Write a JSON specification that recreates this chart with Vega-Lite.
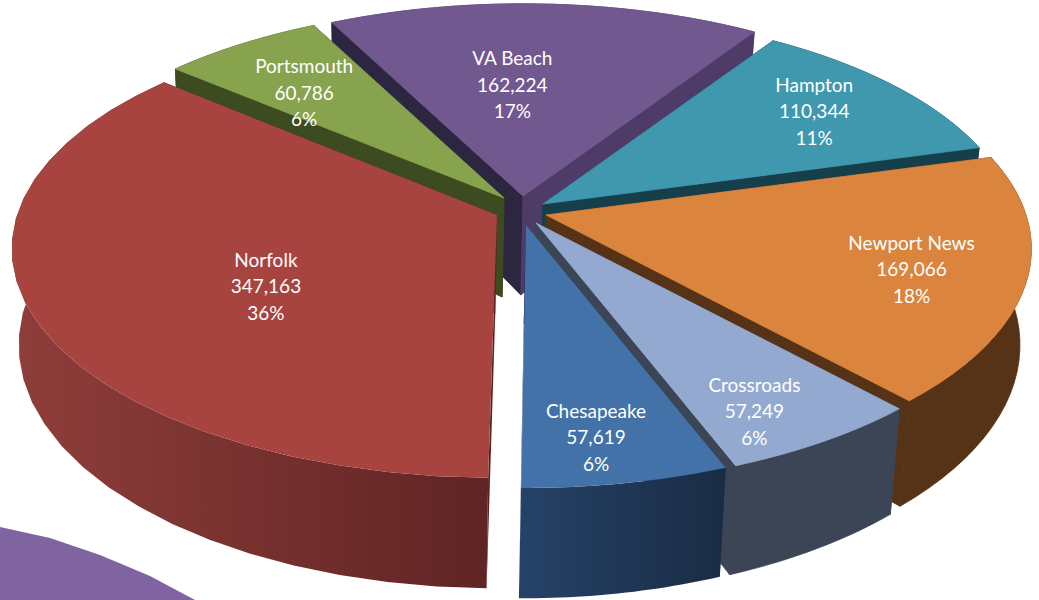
{
"$schema":"https://vega.github.io/schema/vega-lite/v6.json",
"autosize":{"type":"fit","contains":"padding"},
"width":1039,"height":600,"padding":0,"background":"white",
"view":{"stroke":null},
"data":{"values":[
{"slice":"VA Beach","value":162224,"pieOrder":3},
{"slice":"Portsmouth","value":60786,"pieOrder":2},
{"slice":"Hampton","value":110344,"pieOrder":4},
{"slice":"Newport News","value":169066,"pieOrder":5},
{"slice":"Norfolk","value":347163,"pieOrder":1},
{"slice":"Crossroads","value":57249,"pieOrder":6},
{"slice":"Chesapeake","value":57619,"pieOrder":7}
]},
"transform":[
{"joinaggregate":[{"op":"sum","field":"value","as":"total"}]},
{"window":[{"op":"sum","field":"value","as":"cum"}],"sort":[{"field":"pieOrder","order":"ascending"}]},
{"calculate":"180.5+(datum.slice=='Norfolk'?0.4:0)+360*(datum.cum-datum.value)/datum.total","as":"startDeg"},
{"calculate":"360*datum.value/datum.total","as":"spanDeg"},
{"calculate":"{'Norfolk':[497,215],'Portsmouth':[504,198],'VA Beach':[523,196],'Hampton':[543,204],'Newport News':[546,215],'Crossroads':[536,223],'Chesapeake':[526,225]}[datum.slice]","as":"apexAt"},
{"calculate":"{'Norfolk':1,'Portsmouth':0.98,'VA Beach':0.985,'Hampton':0.98,'Newport News':1,'Crossroads':1,'Chesapeake':1}[datum.slice]","as":"rs"},
{"calculate":"['wall','side1','side2','top']","as":"part"},
{"flatten":["part"]},
{"calculate":"datum.part=='top'?[-1,0,0.04,0.08,0.12,0.16,0.2,0.24,0.28,0.32,0.36,0.4,0.44,0.48,0.52,0.56,0.6,0.64,0.68,0.72,0.76,0.8,0.84,0.88,0.92,0.96,1]:datum.part=='wall'?[0,0.04,0.08,0.12,0.16,0.2,0.24,0.28,0.32,0.36,0.4,0.44,0.48,0.52,0.56,0.6,0.64,0.68,0.72,0.76,0.8,0.84,0.88,0.92,0.96,1,3,2.96,2.92,2.88,2.84,2.8,2.76,2.72,2.68,2.64,2.6,2.56,2.52,2.48,2.44,2.4,2.36,2.32,2.28,2.24,2.2,2.16,2.12,2.08,2.04,2]:datum.part=='side1'?[-1,0,2,-2]:[-1,1,3,-2]","as":"code"},
{"flatten":["code"]},
{"window":[{"op":"row_number","as":"seq"}]},
{"calculate":"datum.slice+' '+datum.part","as":"piece"},
{"calculate":"datum.code==-2||datum.code>=2","as":"low"},
{"calculate":"datum.code<0","as":"isApex"},
{"calculate":"(datum.startDeg+(datum.code>=2?datum.code-2:datum.code)*datum.spanDeg)*PI/180","as":"ang"},
{"calculate":"datum.isApex?1:1+0.148*cos(datum.ang)","as":"D"},
{"calculate":"datum.apexAt[0]+(datum.isApex?0:datum.rs*480*sin(datum.ang)/datum.D)","as":"x0"},
{"calculate":"datum.apexAt[1]-(datum.isApex?0:datum.rs*224*cos(datum.ang)/datum.D)","as":"y0"},
{"calculate":"datum.low?7.2+datum.x0*0.982:datum.x0","as":"px"},
{"calculate":"datum.low?datum.y0+(datum.isApex?99:94/datum.D):datum.y0","as":"py"}
],
"encoding":{
"x":{"field":"px","type":"quantitative","scale":{"domain":[0,1039],"nice":false,"zero":false},"axis":null},
"y":{"field":"py","type":"quantitative","scale":{"domain":[600,0],"nice":false,"zero":false},"axis":null},
"order":{"field":"seq","type":"quantitative"}
},
"layer":[
{"data":{"values":[{"seq":1,"px":0,"py":527},{"seq":2,"px":50,"py":538},{"seq":3,"px":100,"py":555},{"seq":4,"px":150,"py":576},{"seq":5,"px":195,"py":600},{"seq":6,"px":0,"py":600}]},
"mark":{"type":"line","fill":"#8064A2","stroke":null,"interpolate":"linear-closed"}},
{"transform":[{"filter":"datum.slice!='Norfolk'&&datum.slice!='Chesapeake'"}],
"mark":{"type":"line","strokeWidth":0.8,"interpolate":"linear-closed"},
"encoding":{"fill":{"field":"piece","type":"nominal","legend":null,"scale":{
"domain":["VA Beach wall","VA Beach side1","VA Beach side2","VA Beach top","Portsmouth wall","Portsmouth side1","Portsmouth side2","Portsmouth top","Hampton wall","Hampton side1","Hampton side2","Hampton top","Newport News wall","Newport News side1","Newport News side2","Newport News top","Norfolk side1","Norfolk side2","Norfolk top","Crossroads wall","Crossroads side1","Crossroads side2","Crossroads top","Chesapeake side1","Chesapeake side2","Chesapeake top"],
"range":["#4e3b68","#2d2640","#4e3b68","#71588F","#404f20","#3d4b20","#3d4b20","#87A34E","#17414f","#17414f","#163f4c","#4098AF","#563317","#563317","#563317","#DB843D","#5a2422","#5a2422","#A8443F","#3b4555","#3b4555","#3b4555","#93A9CF","#1d3350","#1d3350","#4272A7"]
}},
"stroke":{"field":"piece","type":"nominal","legend":null,"scale":{
"domain":["VA Beach wall","VA Beach side1","VA Beach side2","VA Beach top","Portsmouth wall","Portsmouth side1","Portsmouth side2","Portsmouth top","Hampton wall","Hampton side1","Hampton side2","Hampton top","Newport News wall","Newport News side1","Newport News side2","Newport News top","Crossroads wall","Crossroads side1","Crossroads side2","Crossroads top"],
"range":["#4e3b68","#2d2640","#4e3b68","#71588F","#404f20","#3d4b20","#3d4b20","#87A34E","#17414f","#17414f","#163f4c","#4098AF","#563317","#563317","#563317","#DB843D","#3b4555","#3b4555","#3b4555","#93A9CF"]
}}}},
{"transform":[{"filter":"datum.slice=='Norfolk'&&(datum.part=='side1'||datum.part=='side2')"}],
"mark":{"type":"line","stroke":null,"interpolate":"linear-closed"},
"encoding":{"fill":{"field":"piece","type":"nominal","legend":null}}},
{"transform":[{"filter":"datum.piece=='Norfolk wall'"}],
"mark":{"type":"line","stroke":null,"interpolate":"linear-closed","fill":{"gradient":"linear","x1":0,"y1":0,"x2":1,"y2":0,"stops":[{"offset":0,"color":"#8f3e3a"},{"offset":1,"color":"#5f2424"}]}}},
{"transform":[{"filter":"datum.piece=='Norfolk top'"}],
"mark":{"type":"line","stroke":null,"interpolate":"linear-closed"},
"encoding":{"fill":{"field":"piece","type":"nominal","legend":null}}},
{"transform":[{"filter":"datum.slice=='Chesapeake'&&(datum.part=='side1'||datum.part=='side2')"}],
"mark":{"type":"line","stroke":null,"interpolate":"linear-closed"},
"encoding":{"fill":{"field":"piece","type":"nominal","legend":null}}},
{"transform":[{"filter":"datum.piece=='Chesapeake wall'"}],
"mark":{"type":"line","stroke":null,"interpolate":"linear-closed","fill":{"gradient":"linear","x1":0,"y1":0,"x2":1,"y2":0,"stops":[{"offset":0,"color":"#254268"},{"offset":1,"color":"#1a2c44"}]}}},
{"transform":[{"filter":"datum.piece=='Chesapeake top'"}],
"mark":{"type":"line","stroke":null,"interpolate":"linear-closed"},
"encoding":{"fill":{"field":"piece","type":"nominal","legend":null}}},
{"transform":[
{"filter":"datum.part=='top'&&datum.code==-1"},
{"joinaggregate":[{"op":"sum","field":"value","as":"sumValue"}]},
{"calculate":"datum.slice+'\\n'+format(datum.value,',')+'\\n'+format(datum.value/datum.sumValue,'.0%')","as":"label"},
{"calculate":"(datum.startDeg+datum.spanDeg/2)*PI/180","as":"mid"},
{"calculate":"1+0.148*cos(datum.mid)","as":"Dm"},
{"calculate":"datum.apexAt[0]+{'Norfolk':0.496,'Portsmouth':0.745,'VA Beach':-0.48,'Hampton':0.76,'Newport News':0.76,'Crossroads':0.757,'Chesapeake':0.70}[datum.slice]*480*sin(datum.mid)/datum.Dm","as":"lx"},
{"calculate":"datum.apexAt[1]-{'Norfolk':0.72,'Portsmouth':0.675,'VA Beach':0.574,'Hampton':0.77,'Newport News':0.83,'Crossroads':0.86,'Chesapeake':0.82}[datum.slice]*224*cos(datum.mid)/datum.Dm","as":"ly"}
],
"mark":{"type":"text","color":"white","font":"Lato","fontSize":19,"lineBreak":"\n","lineHeight":26.5,"align":"center","baseline":"middle","dy":-25},
"encoding":{"x":{"field":"lx","type":"quantitative"},"y":{"field":"ly","type":"quantitative"},"text":{"field":"label","type":"nominal"}}}
]
}
